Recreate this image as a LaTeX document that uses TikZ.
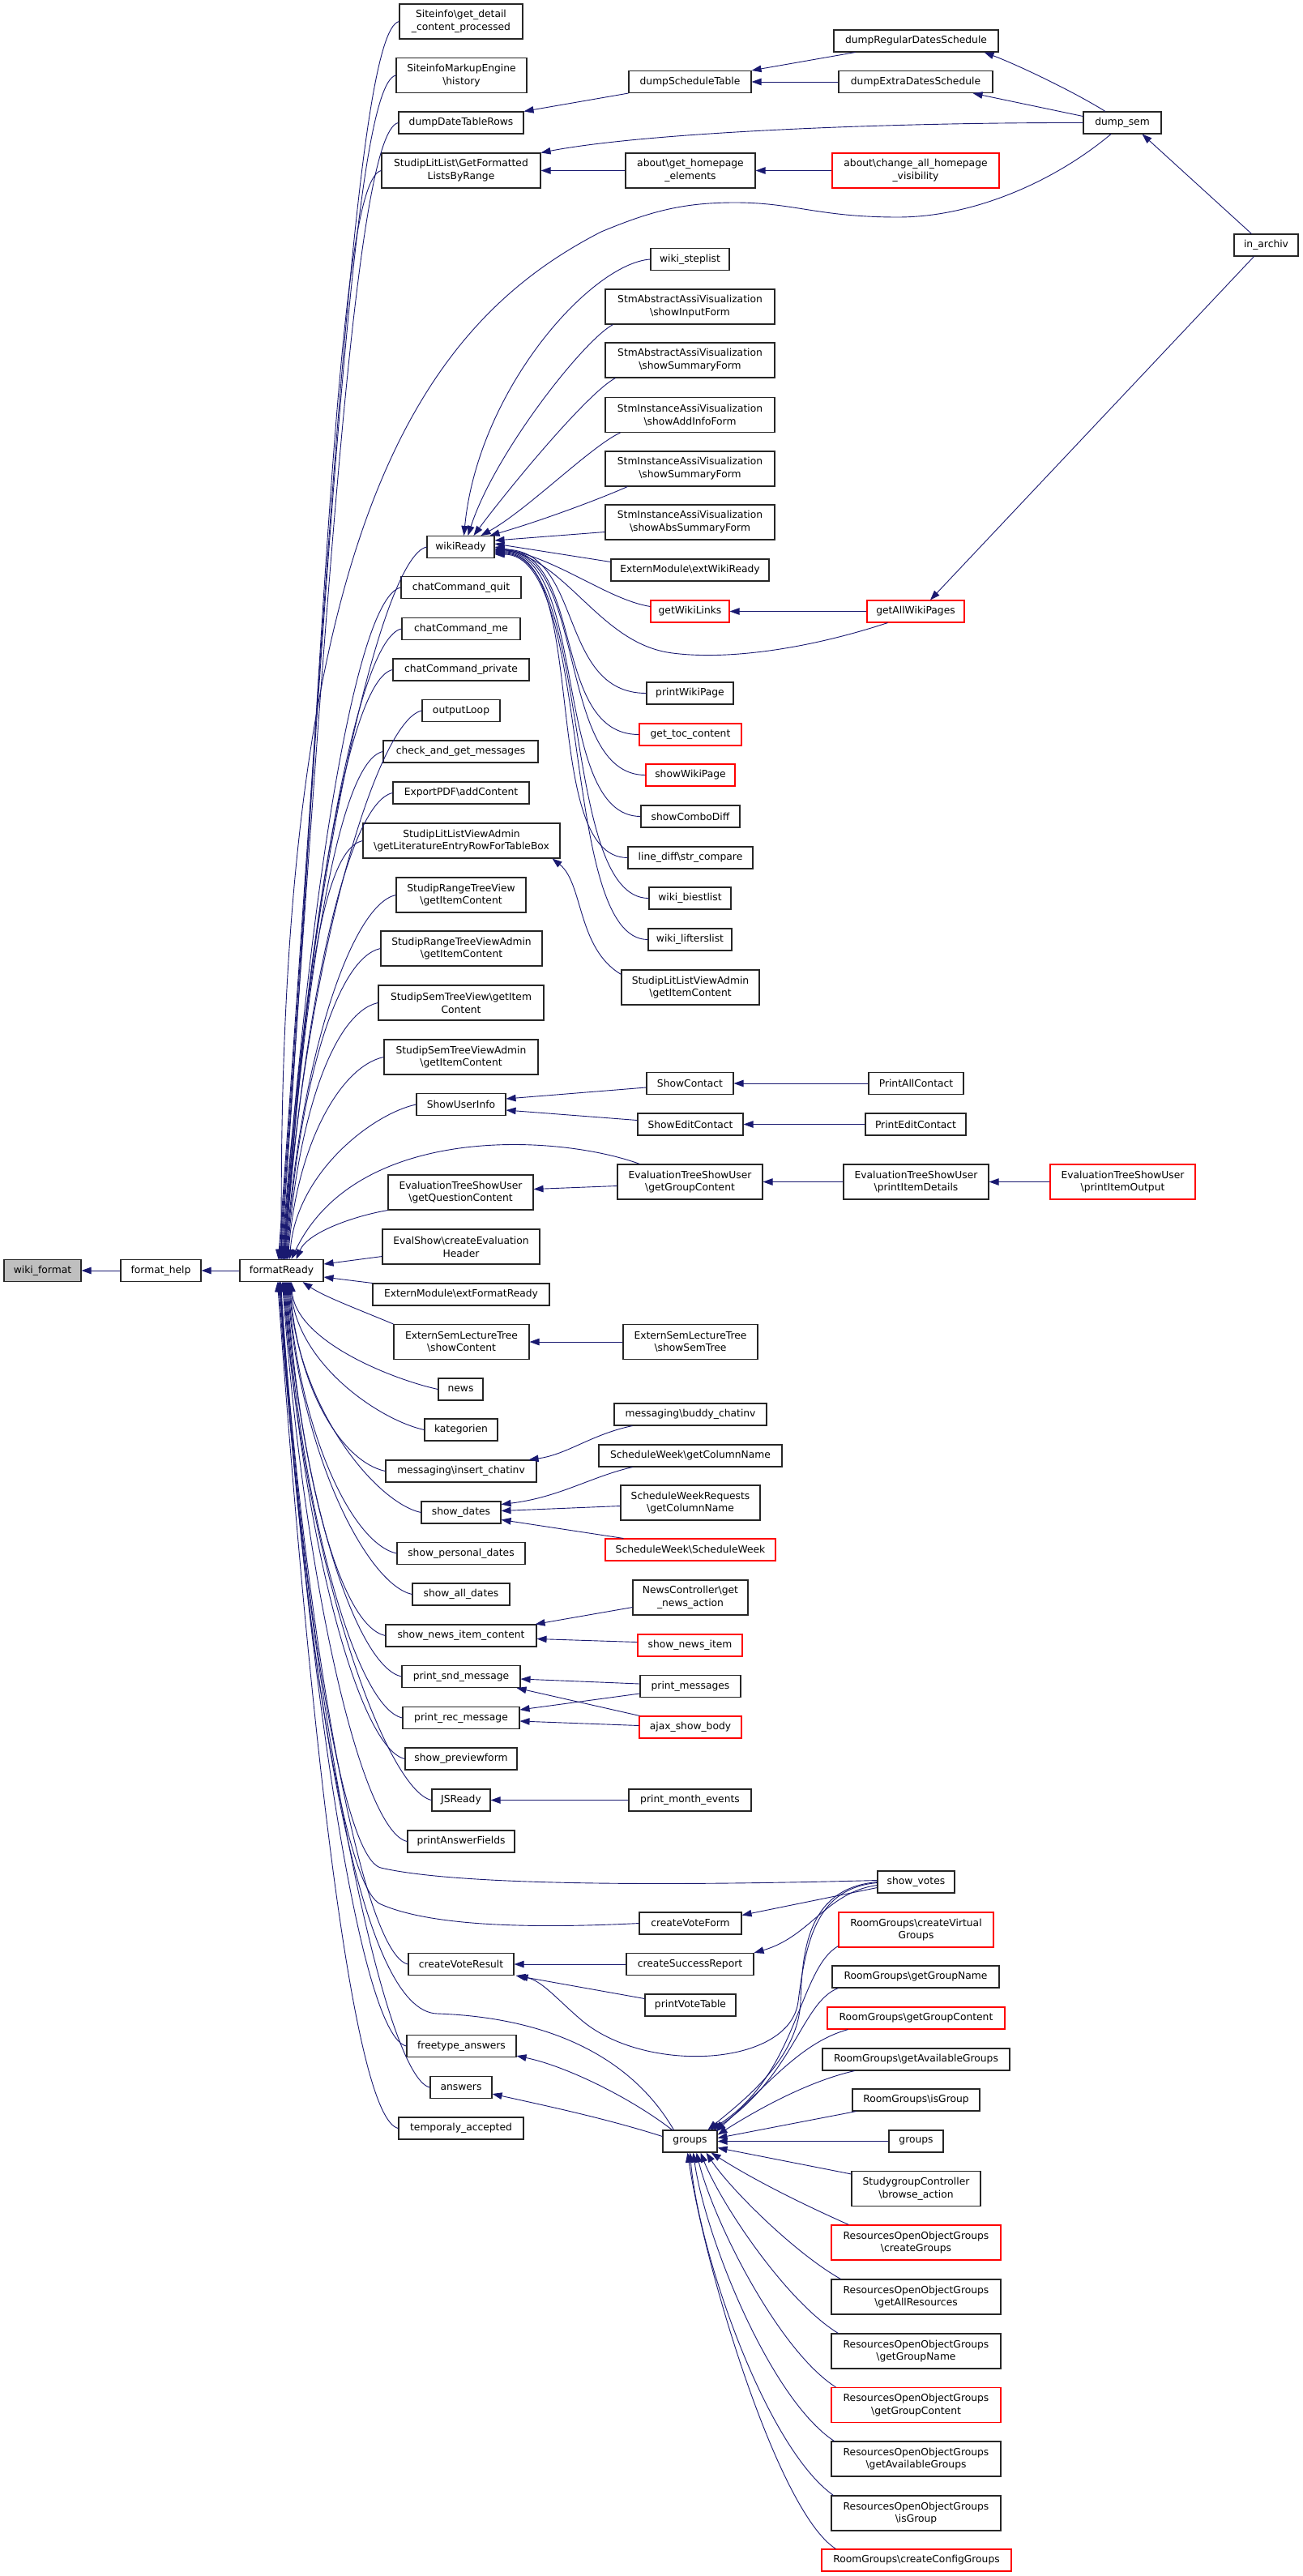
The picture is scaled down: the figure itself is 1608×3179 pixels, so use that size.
\documentclass[tikz,border=0pt]{standalone}
\usepackage{fontspec}
\setmainfont{DejaVu Sans}
\usetikzlibrary{arrows.meta,calc}
\definecolor{edgeblue}{HTML}{191970}
\definecolor{boxgray}{HTML}{BFBFBF}
\tikzset{
  box/.style={draw=black!85,line width=1.1pt,fill=white,inner sep=0pt,align=center,
    font=\fontsize{12.3}{15.8}\selectfont},
  cedge/.style={draw=edgeblue,line width=0.9pt,-{Triangle[length=12pt,width=8.5pt]}},
}
\newcommand\mybox[6][]{\node[box,#1,minimum width=#4pt,minimum height=#5pt] (#2) at (#3) {#6};}
\newcommand\fedgeu[3]{\pgfmathsetmacro\fdd{1555-#2}\draw[cedge] (#1.west) .. controls +(-55,12) and +({0.04*\fdd},{-0.55*\fdd}) .. ($(fr.north)+(#3,0)$);}
\newcommand\fedged[3]{\pgfmathsetmacro\fdd{#2-1581}\draw[cedge] (#1.west) .. controls +(-55,-12) and +({0.04*\fdd},{0.55*\fdd}) .. ($(fr.south)+(#3,0)$);}
\begin{document}
\begin{tikzpicture}[x=1pt,y=-1pt]
\useasboundingbox (0,0) rectangle (1608,3179);
% column 1
\mybox[fill=boxgray]{wf}{52.5,1568}{95}{27}{wiki\_format}
\mybox{fh}{198.5,1568}{99}{27}{format\_help}
\mybox{fr}{347.5,1568}{103}{27}{formatReady}
% column 2
\mybox{sgdc}{569,26.5}{152}{43}{Siteinfo\textbackslash get\_detail\\\_content\_processed}
\mybox{smeh}{569.5,93}{161}{43}{SiteinfoMarkupEngine\\\textbackslash history}
\mybox{ddtr}{569,151.5}{154}{27}{dumpDateTableRows}
\mybox{sllg}{569,210.5}{196}{43}{StudipLitList\textbackslash GetFormatted\\ListsByRange}
\mybox{wR}{568.5,675}{83}{27}{wikiReady}
\mybox{ccq}{569,725}{148}{27}{chatCommand\_quit}
\mybox{ccm}{569,776}{146}{27}{chatCommand\_me}
\mybox{ccp}{569,826.5}{168}{27}{chatCommand\_private}
\mybox{oL}{569,877}{96}{27}{outputLoop}
\mybox{cagm}{568.5,927.5}{191}{27}{check\_and\_get\_messages}
\mybox{epdf}{569,978.5}{168}{27}{ExportPDF\textbackslash addContent}
\mybox{slvaL}{569.5,1037.5}{243}{43}{StudipLitListViewAdmin\\\textbackslash getLiteratureEntryRowForTableBox}
\mybox{srtv}{569,1104.5}{160}{43}{StudipRangeTreeView\\\textbackslash getItemContent}
\mybox{srtva}{569.5,1170.5}{199}{43}{StudipRangeTreeViewAdmin\\\textbackslash getItemContent}
\mybox{sstv}{569,1237.5}{204}{43}{StudipSemTreeView\textbackslash getItem\\Content}
\mybox{sstva}{569,1304.5}{190}{43}{StudipSemTreeViewAdmin\\\textbackslash getItemContent}
\mybox{sui}{569,1363}{110}{27}{ShowUserInfo}
\mybox{etqc}{568.5,1471.5}{179}{43}{EvaluationTreeShowUser\\\textbackslash getQuestionContent}
\mybox{esceh}{569,1538.5}{194}{43}{EvalShow\textbackslash createEvaluation\\Header}
\mybox{emefr}{569,1597.5}{218}{27}{ExternModule\textbackslash extFormatReady}
\mybox{eslt}{569.5,1656}{167}{43}{ExternSemLectureTree\\\textbackslash showContent}
\mybox{news}{568.5,1714.5}{55}{27}{news}
\mybox{kat}{569,1764.5}{90}{27}{kategorien}
\mybox{mic}{569,1815.5}{186}{27}{messaging\textbackslash insert\_chatinv}
\mybox{shd}{569,1866.5}{98}{27}{show\_dates}
\mybox{spd}{569,1917}{158}{27}{show\_personal\_dates}
\mybox{sad}{569,1967.5}{120}{27}{show\_all\_dates}
\mybox{snic}{569,2018.5}{186}{27}{show\_news\_item\_content}
\mybox{psm}{569,2069}{146}{27}{print\_snd\_message}
\mybox{prm}{569,2120}{144}{27}{print\_rec\_message}
\mybox{spf}{569,2170.5}{138}{27}{show\_previewform}
\mybox{jsr}{569,2221.5}{72}{27}{JSReady}
\mybox{paf}{569,2272.5}{132}{27}{printAnswerFields}
\mybox{cvr}{569,2424}{130}{27}{createVoteResult}
\mybox{fta}{569.5,2525}{135}{27}{freetype\_answers}
\mybox{ans}{569,2576}{76}{27}{answers}
\mybox{tacc}{569,2626.5}{154}{27}{temporaly\_accepted}
% column 3
\mybox{dst}{851.5,101}{151}{27}{dumpScheduleTable}
\mybox{aghe}{852,210.5}{160}{43}{about\textbackslash get\_homepage\\\_elements}
\mybox{wsl}{851.5,320}{97}{27}{wiki\_steplist}
\mybox{saif}{851.5,378.5}{209}{43}{StmAbstractAssiVisualization\\\textbackslash showInputForm}
\mybox{sasf}{851.5,444.5}{209}{43}{StmAbstractAssiVisualization\\\textbackslash showSummaryForm}
\mybox{siaf}{851.5,512}{209}{43}{StmInstanceAssiVisualization\\\textbackslash showAddInfoForm}
\mybox{sisf}{851.5,578.5}{209}{43}{StmInstanceAssiVisualization\\\textbackslash showSummaryForm}
\mybox{siasf}{851.5,644.5}{209}{43}{StmInstanceAssiVisualization\\\textbackslash showAbsSummaryForm}
\mybox{emewr}{851.5,703.5}{195}{27}{ExternModule\textbackslash extWikiReady}
\mybox[draw=red]{gwl}{851.5,754.5}{97}{27}{getWikiLinks}
\mybox{pwp}{851.5,855.5}{107}{27}{printWikiPage}
\mybox[draw=red]{gtc}{852,906.5}{126}{27}{get\_toc\_content}
\mybox[draw=red]{swp}{852,956.5}{110}{27}{showWikiPage}
\mybox{scd}{852,1007.5}{122}{27}{showComboDiff}
\mybox{ldsc}{852,1058.5}{154}{27}{line\_diff\textbackslash str\_compare}
\mybox{wbl}{851.5,1108.5}{101}{27}{wiki\_biestlist}
\mybox{wll}{851.5,1159.5}{103}{27}{wiki\_lifterslist}
\mybox{slvgic}{852,1218.5}{170}{43}{StudipLitListViewAdmin\\\textbackslash getItemContent}
\mybox{sc}{851.5,1337}{107}{27}{ShowContact}
\mybox{sec}{852,1387.5}{130}{27}{ShowEditContact}
\mybox{etgc}{851.5,1458.5}{179}{43}{EvaluationTreeShowUser\\\textbackslash getGroupContent}
\mybox{esst}{852,1656}{166}{43}{ExternSemLectureTree\\\textbackslash showSemTree}
\mybox{mbc}{852,1745.5}{188}{27}{messaging\textbackslash buddy\_chatinv}
\mybox{swgcn}{852,1796.5}{226}{27}{ScheduleWeek\textbackslash getColumnName}
\mybox{swrgcn}{852,1854.5}{172}{43}{ScheduleWeekRequests\\\textbackslash getColumnName}
\mybox[draw=red]{swsw}{852,1912.5}{210}{27}{ScheduleWeek\textbackslash ScheduleWeek}
\mybox{ncgna}{852,1971.5}{142}{43}{NewsController\textbackslash get\\\_news\_action}
\mybox[draw=red]{sni}{851.5,2030.5}{129}{27}{show\_news\_item}
\mybox{pm}{852,2081}{124}{27}{print\_messages}
\mybox[draw=red]{asb}{852,2131.5}{126}{27}{ajax\_show\_body}
\mybox{pme}{851.5,2221.5}{151}{27}{print\_month\_events}
\mybox{cvf}{852,2373.5}{126}{27}{createVoteForm}
\mybox{csr}{851.5,2424}{157}{27}{createSuccessReport}
\mybox{pvt}{852,2474.5}{112}{27}{printVoteTable}
\mybox{grp}{851.5,2642.5}{67}{27}{groups}
% column 4
\mybox{drds}{1130.5,50.5}{203}{27}{dumpRegularDatesSchedule}
\mybox{deds}{1130,101}{190}{27}{dumpExtraDatesSchedule}
\mybox[draw=red]{acahv}{1130,210.5}{206}{43}{about\textbackslash change\_all\_homepage\\\_visibility}
\mybox[draw=red]{gawp}{1130,754.5}{120}{27}{getAllWikiPages}
\mybox{pac}{1130.5,1337}{117}{27}{PrintAllContact}
\mybox{pec}{1130,1387.5}{124}{27}{PrintEditContact}
\mybox{etpid}{1130.5,1458.5}{179}{43}{EvaluationTreeShowUser\\\textbackslash printItemDetails}
\mybox{sv}{1130.5,2322.5}{95}{27}{show\_votes}
\mybox[draw=red]{rgcvg}{1130.5,2381.5}{191}{43}{RoomGroups\textbackslash createVirtual\\Groups}
\mybox{rggn}{1130,2439.5}{206}{27}{RoomGroups\textbackslash getGroupName}
\mybox[draw=red]{rggc}{1130.5,2490.5}{219}{27}{RoomGroups\textbackslash getGroupContent}
\mybox{rgag}{1130.5,2541.5}{231}{27}{RoomGroups\textbackslash getAvailableGroups}
\mybox{rgig}{1130.5,2591.5}{157}{27}{RoomGroups\textbackslash isGroup}
\mybox{grp2}{1130.5,2642.5}{67}{27}{groups}
\mybox{sgcba}{1130.5,2701}{159}{43}{StudygroupController\\\textbackslash browse\_action}
\mybox[draw=red]{roogcg}{1130.5,2767.5}{209}{43}{ResourcesOpenObjectGroups\\\textbackslash createGroups}
\mybox{roogar}{1130.5,2834.5}{209}{43}{ResourcesOpenObjectGroups\\\textbackslash getAllResources}
\mybox{rooggn}{1130.5,2901.5}{209}{43}{ResourcesOpenObjectGroups\\\textbackslash getGroupName}
\mybox[draw=red]{rooggc}{1130.5,2968}{209}{43}{ResourcesOpenObjectGroups\\\textbackslash getGroupContent}
\mybox{roogag}{1130.5,3034.5}{209}{43}{ResourcesOpenObjectGroups\\\textbackslash getAvailableGroups}
\mybox{roogig}{1130.5,3101.5}{209}{43}{ResourcesOpenObjectGroups\\\textbackslash isGroup}
\mybox[draw=red]{rgccg}{1131,3159.5}{234}{27}{RoomGroups\textbackslash createConfigGroups}
% column 5, 6
\mybox{ds}{1385,151.5}{96}{27}{dump\_sem}
\mybox[draw=red]{etpio}{1385.5,1458.5}{179}{43}{EvaluationTreeShowUser\\\textbackslash printItemOutput}
\mybox{ia}{1562.5,302.5}{79}{27}{in\_archiv}

% ---- edges ----
\draw[cedge] (fh.west) -- (wf.east);
\draw[cedge] (fr.west) -- (fh.east);
% top cluster
\draw[cedge] (dst.south west) -- (ddtr.north east);
\draw[cedge] ($(drds.south west)+(27,0)$) -- (dst.north east);
\draw[cedge] (deds.west) -- (dst.east);
\draw[cedge] ($(ds.north)+(-21,0)$) .. controls +(-40,-25) and +(40,15) .. ($(drds.south east)+(-18,0)$);
\draw[cedge] ($(ds.west)+(0,-8)$) -- ($(deds.south east)+(-25,0)$);
\draw[cedge] (ds.west) .. controls (1100,151) and (800,163) .. (sllg.north east);
\draw[cedge] (aghe.west) -- (sllg.east);
\draw[cedge] (acahv.west) -- (aghe.east);
\draw[cedge] ($(ia.north west)+(22,0)$) -- ($(ds.south east)+(-24,0)$);
\draw[cedge] ($(ia.south west)+(25,0)$) -- ($(gawp.north)+(18,0)$);
\draw[cedge] (gawp.west) -- (gwl.east);
\draw[cedge] ($(ds.south)+(-14,0)$) .. controls (1300,225) and (1200,268) .. (1108,268)
  .. controls (1010,268) and (980,250) .. (907,250)
  .. controls (840,250) and (800,262) .. (742,286)
  .. controls (520,400) and (340,650) .. (fr.north);
% formatReady callers above
\fedgeu{sgdc}{26.5}{-4}
\fedgeu{smeh}{93}{-3}
\fedgeu{ddtr}{151.5}{-2}
\fedgeu{sllg}{210.5}{-1}
\fedgeu{wR}{675}{0}
\fedgeu{ccq}{725}{1}
\fedgeu{ccm}{776}{2}
\fedgeu{ccp}{826.5}{2}
\fedgeu{oL}{877}{3}
\fedgeu{cagm}{927.5}{3}
\fedgeu{epdf}{978.5}{4}
\fedgeu{slvaL}{1037.5}{4}
\fedgeu{srtv}{1104.5}{5}
\fedgeu{srtva}{1170.5}{6}
\fedgeu{sstv}{1237.5}{7}
\fedgeu{sstva}{1304.5}{8}
\fedgeu{sui}{1363}{10}
\draw[cedge] ($(etgc.north west)+(28,0)$) .. controls (690,1400) and (440,1385) .. ($(fr.north)+(12,0)$);
\draw[cedge] (etqc.south west) .. controls (440,1500) and (380,1520) .. ($(fr.north)+(18,0)$);
\draw[cedge] ($(esceh.west)+(0,12)$) -- ($(fr.east)+(0,-8)$);
\draw[cedge] (emefr.north west) -- ($(fr.east)+(0,8)$);
\draw[cedge] (eslt.north west) .. controls (440,1615) and (400,1600) .. ($(fr.south)+(26,0)$);
% formatReady callers below
\fedged{news}{1714.5}{12}
\fedged{kat}{1764.5}{11}
\fedged{mic}{1815.5}{10}
\fedged{shd}{1866.5}{9}
\fedged{spd}{1917}{8}
\fedged{sad}{1967.5}{7}
\fedged{snic}{2018.5}{6}
\fedged{psm}{2069}{5}
\fedged{prm}{2120}{4}
\fedged{spf}{2170.5}{3}
\fedged{jsr}{2221.5}{2}
\fedged{paf}{2272.5}{1}
\fedged{cvr}{2424}{-2}
\fedged{fta}{2525}{-3}
\fedged{ans}{2576}{-4}
\fedged{tacc}{2626.5}{-5}
\draw[cedge] ($(sv.west)+(0,-2)$) .. controls (800,2328) and (560,2326) .. (470,2305)
  .. controls (420,2292) and (370,1950) .. ($(fr.south)+(-1,0)$);
\draw[cedge] (cvf.west) .. controls (620,2382) and (520,2372) .. (470,2350)
  .. controls (420,2330) and (368,1950) .. ($(fr.south)+(-2,0)$);
\draw[cedge] ($(grp.north west)+(14,0)$) .. controls (780,2540) and (680,2490) .. (540,2485)
  .. controls (445,2484) and (380,2100) .. ($(fr.south)+(-2,0)$);
% wikiReady callers
\draw[cedge] (wsl.west) .. controls (730,325) and (590,480) .. ($(wR.north)+(4,0)$);
\draw[cedge] ($(saif.south west)+(10,0)$) .. controls (720,420) and (610,560) .. ($(wR.north)+(9,0)$);
\draw[cedge] ($(sasf.south west)+(13,0)$) .. controls (725,485) and (630,600) .. ($(wR.north)+(16,0)$);
\draw[cedge] ($(siaf.south west)+(19,0)$) .. controls (730,550) and (650,630) .. ($(wR.north)+(25,0)$);
\draw[cedge] ($(sisf.south west)+(28,0)$) .. controls (730,620) and (660,645) .. ($(wR.north east)+(-6,0)$);
\draw[cedge] ($(siasf.west)+(0,12)$) -- ($(wR.east)+(0,-8)$);
\draw[cedge] ($(emewr.north west)+(0,4)$) -- ($(wR.east)+(0,-4)$);
\draw[cedge] ($(gwl.west)+(0,-6)$) .. controls (750,740) and (690,690) .. (wR.east);
\draw[cedge] ($(gawp.south west)+(26,0)$) .. controls (1000,800) and (900,815) .. (830,806)
  .. controls (740,795) and (700,690) .. ($(wR.east)+(0,2)$);
\draw[cedge] (pwp.west) .. controls +(-110,0) and +(110,0) .. ($(wR.east)+(0,3)$);
\draw[cedge] (gtc.west) .. controls +(-110,0) and +(112,0) .. ($(wR.east)+(0,4)$);
\draw[cedge] (swp.west) .. controls +(-110,0) and +(114,0) .. ($(wR.east)+(0,5)$);
\draw[cedge] (scd.west) .. controls +(-110,0) and +(116,0) .. ($(wR.east)+(0,6)$);
\draw[cedge] (ldsc.west) .. controls +(-110,0) and +(118,0) .. ($(wR.east)+(0,7)$);
\draw[cedge] (wbl.west) .. controls +(-110,0) and +(120,0) .. ($(wR.east)+(0,8)$);
\draw[cedge] (wll.west) .. controls +(-110,0) and +(122,0) .. ($(wR.east)+(0,9)$);
% middle
\draw[cedge] ($(slvgic.north west)+(0,6)$) .. controls (712,1170) and (720,1090) .. ($(slvaL.south east)+(-10,0)$);
\draw[cedge] ($(sc.west)+(0,5)$) -- ($(sui.east)+(0,-7)$);
\draw[cedge] ($(sec.west)+(0,-5)$) -- ($(sui.east)+(0,7)$);
\draw[cedge] (pac.west) -- (sc.east);
\draw[cedge] (pec.west) -- (sec.east);
\draw[cedge] ($(etgc.west)+(0,5)$) -- ($(etqc.east)+(0,-4)$);
\draw[cedge] (etpid.west) -- (etgc.east);
\draw[cedge] (etpio.west) -- (etpid.east);
\draw[cedge] (esst.west) -- (eslt.east);
\draw[cedge] ($(mbc.south west)+(23,0)$) .. controls (730,1770) and (700,1795) .. ($(mic.north east)+(-10,0)$);
\draw[cedge] ($(swgcn.south west)+(42,0)$) .. controls (730,1822) and (690,1848) .. ($(shd.east)+(0,-10)$);
\draw[cedge] ($(swrgcn.west)+(0,4)$) -- ($(shd.east)+(0,-2)$);
\draw[cedge] ($(swsw.north west)+(23,0)$) -- ($(shd.east)+(0,9)$);
\draw[cedge] ($(ncgna.west)+(0,12)$) -- ($(snic.north east)+(-2,0)$);
\draw[cedge] ($(sni.west)+(0,-4)$) -- ($(snic.east)+(0,4)$);
\draw[cedge] ($(pm.west)+(0,-3)$) -- ($(psm.east)+(0,3)$);
\draw[cedge] ($(asb.north west)+(1,0)$) -- ($(psm.south east)+(-5,0)$);
\draw[cedge] ($(pm.west)+(0,9)$) -- ($(prm.east)+(0,-10)$);
\draw[cedge] ($(asb.west)+(0,-2)$) -- ($(prm.east)+(0,4)$);
\draw[cedge] (pme.west) -- (jsr.east);
% votes / groups
\draw[cedge] ($(sv.west)+(0,7)$) -- ($(cvf.east)+(0,-10)$);
\draw[cedge] ($(sv.west)+(0,4)$) .. controls (1020,2335) and (1000,2390) .. (csr.north east);
\draw[cedge] ($(sv.west)+(0,1)$) .. controls (1010,2330) and (995,2390) .. (985,2470)
  .. controls (975,2550) and (800,2560) .. (720,2495)
  .. controls (690,2470) and (670,2445) .. ($(cvr.south east)+(5,0)$);
\draw[cedge] ($(pvt.west)+(0,-8)$) -- ($(cvr.south east)+(2,0)$);
\draw[cedge] (csr.west) -- (cvr.east);
\draw[cedge] ($(grp.north west)+(12,0)$) .. controls (780,2590) and (700,2550) .. ($(fta.south east)+(0,-2)$);
\draw[cedge] ($(grp.west)+(0,-6)$) .. controls (750,2615) and (680,2600) .. ($(ans.east)+(0,8)$);
\draw[cedge] (sv.west) .. controls (1000,2330) and (990,2400) .. (988,2470)
  .. controls (985,2540) and (920,2590) .. ($(grp.north)+(22,0)$);
\draw[cedge] ($(rgcvg.south west)+(0,-2)$) .. controls (985,2430) and (985,2560) .. ($(grp.north)+(25,0)$);
\draw[cedge] ($(rggn.south west)+(8,0)$) .. controls (990,2470) and (980,2560) .. ($(grp.north east)+(-5,0)$);
\draw[cedge] ($(rggc.south west)+(26,0)$) .. controls (990,2520) and (950,2570) .. ($(grp.north east)+(-2,2)$);
\draw[cedge] ($(rgag.south west)+(40,0)$) .. controls (1000,2568) and (940,2600) .. ($(grp.east)+(0,-8)$);
\draw[cedge] ($(rgig.south west)+(5,0)$) -- ($(grp.east)+(0,-4)$);
\draw[cedge] (grp2.west) -- (grp.east);
\draw[cedge] ($(sgcba.north west)+(0,4)$) -- ($(grp.east)+(0,8)$);
\draw[cedge] ($(roogcg.north west)+(22,0)$) .. controls (990,2720) and (930,2690) .. ($(grp.south east)+(-8,0)$);
\draw[cedge] ($(roogar.north west)+(12,0)$) .. controls (980,2780) and (900,2700) .. ($(grp.south east)+(-14,0)$);
\draw[cedge] ($(rooggn.north west)+(9,0)$) .. controls (970,2840) and (890,2720) .. ($(grp.south)+(13,0)$);
\draw[cedge] ($(rooggc.north west)+(6,0)$) .. controls (960,2900) and (880,2740) .. ($(grp.south)+(8,0)$);
\draw[cedge] ($(roogag.north west)+(4,0)$) .. controls (950,2960) and (870,2760) .. ($(grp.south)+(4,0)$);
\draw[cedge] ($(roogig.north west)+(3,0)$) .. controls (945,3020) and (862,2780) .. (grp.south);
\draw[cedge] ($(rgccg.north west)+(18,0)$) .. controls (960,3100) and (870,2800) .. ($(grp.south)+(-3,0)$);
\end{tikzpicture}
\end{document}
